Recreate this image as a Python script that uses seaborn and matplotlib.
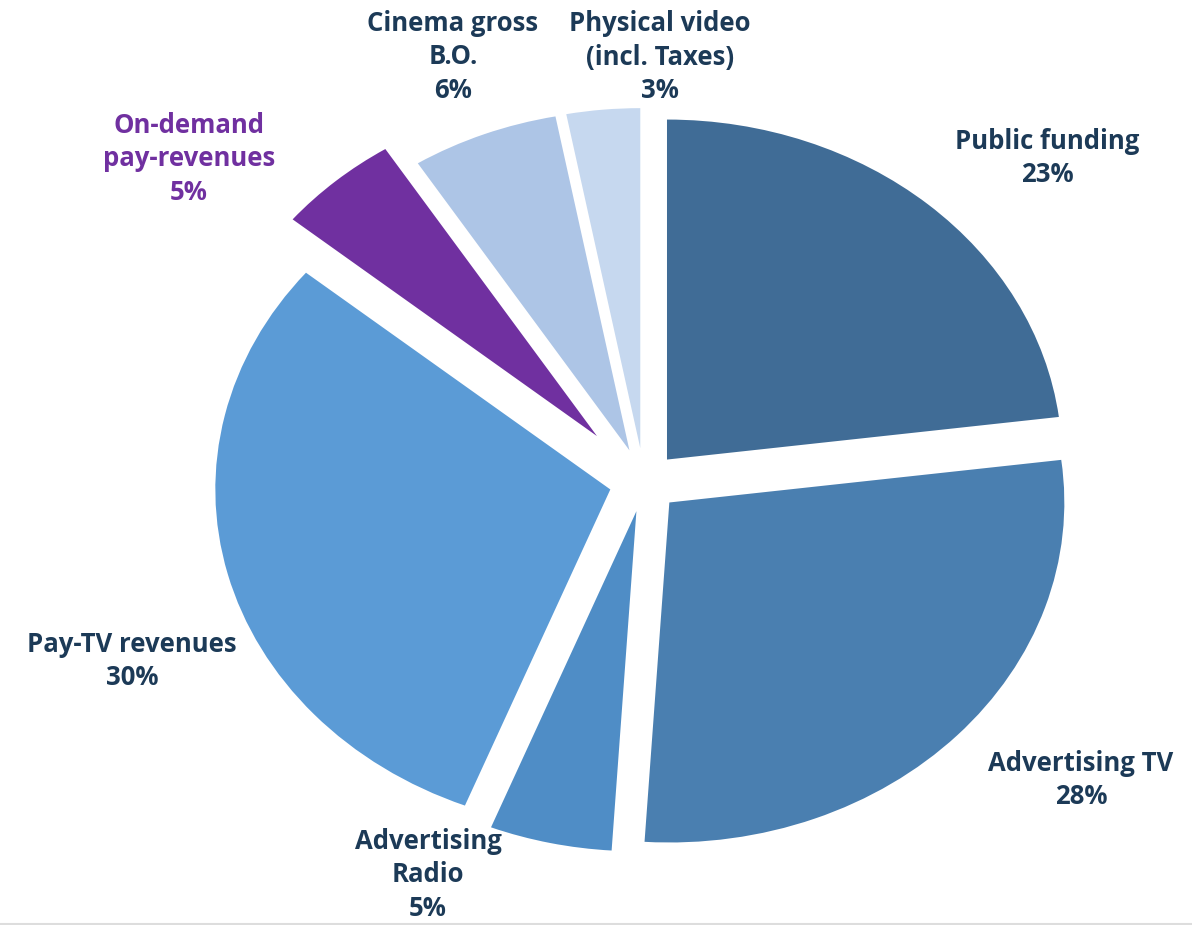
import matplotlib
matplotlib.use("Agg")
import matplotlib.pyplot as plt
import seaborn as sns
from matplotlib.lines import Line2D

# ---- data ----
categories = [
    "Public funding",
    "Advertising TV",
    "Advertising\nRadio",
    "Pay-TV revenues",
    "On-demand\npay-revenues",
    "Cinema gross\nB.O.",
    "Physical video\n(incl. Taxes)",
]
shares = [23, 28, 5, 30, 5, 6, 3]

# ---- styles ----
colors = ["#406c96", "#4a7fb0", "#4f8dc6", "#5b9bd6", "#7030a0", "#adc5e6", "#c6d8ef"]
explode = [0.088, 0.088, 0.088, 0.088, 0.18, 0.10, 0.10]
text_colors = ["#1c3a57"] * 4 + ["#7030a0"] + ["#1c3a57"] * 2
# label centres in pixel coordinates (x from left, y from top)
label_px = [(1047, 158), (1081, 780), (428, 875), (132, 661),
            (189, 159), (453, 57), (660, 57)]

W, H = 1192, 925
CX, CY = 644, 482      # pie centre (px)
RX, RY = 395, 340      # pie radii (px)

sns.set_theme(style="white")
plt.rcParams["font.family"] = ["Open Sans", "DejaVu Sans"]

fig = plt.figure(figsize=(W / 100, H / 100), dpi=100)
ax = fig.add_axes([0, 0, 1, 1])

ax.pie(shares, colors=colors, explode=explode, startangle=90,
       counterclock=False, radius=1.0,
       wedgeprops=dict(linewidth=0))

ax.set_aspect("auto")
ax.set_xlim(-CX / RX, (W - CX) / RX)
ax.set_ylim(-(H - CY) / RY, CY / RY)
ax.axis("off")

for cat, val, (px, py), tc in zip(categories, shares, label_px, text_colors):
    fig.text(px / W, 1 - py / H, f"{cat}\n{val}%", ha="center", va="center",
             color=tc, fontsize=18.5, fontweight="bold", linespacing=1.3)

fig.add_artist(Line2D([0, 1], [1.5 / H, 1.5 / H], color="#dddddd", lw=1.5,
                      transform=fig.transFigure))

fig.savefig("out.png", dpi=100, facecolor="white")
